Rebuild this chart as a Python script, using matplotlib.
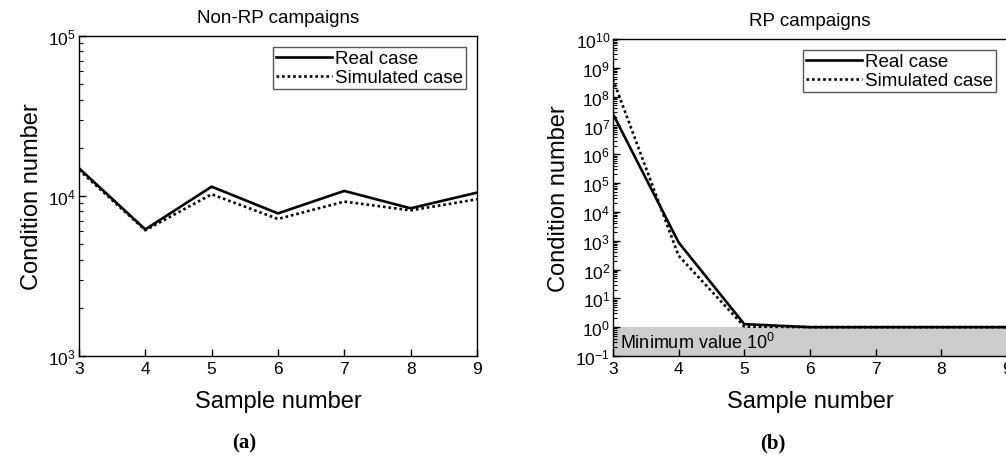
import numpy as np
import matplotlib
matplotlib.use("Agg")
from matplotlib import pyplot as plt
from matplotlib.ticker import LogLocator, NullFormatter

plt.rcParams['font.family'] = ['Liberation Sans', 'DejaVu Sans']
plt.rcParams['mathtext.fontset'] = 'custom'
plt.rcParams['mathtext.rm'] = 'Liberation Sans'
plt.rcParams['mathtext.it'] = 'Liberation Sans:italic'
plt.rcParams['axes.unicode_minus'] = False

# 样本编号
samples = [3, 4, 5, 6, 7, 8, 9]

# 非RP活动的条件数
nonrp_real = [14900, 6180, 11430, 7780, 10750, 8370, 10490]
nonrp_sim = [14550, 6100, 10250, 7180, 9220, 8130, 9530]

# RP活动的条件数
rp_real = [2.5e7, 870, 1.27, 1.0, 1.0, 1.0, 1.0]
rp_sim = [4e8, 300, 1.05, 1.0, 1.0, 1.0, 1.0]

min_value = 1.0

fig = plt.figure(figsize=(10.06, 4.6), dpi=100)
ax1 = fig.add_axes([0.0785, 0.224, 0.3956, 0.6957])
ax2 = fig.add_axes([0.6093, 0.224, 0.3917, 0.689])


def style_axes(ax, ylim, title):
    ax.set_yscale('log')
    ax.set_xlim(3, 9)
    ax.set_ylim(*ylim)
    ax.set_xticks(samples)
    ax.yaxis.set_major_locator(LogLocator(base=10, numticks=20))
    ax.yaxis.set_minor_locator(LogLocator(base=10, subs=np.arange(2, 10), numticks=20))
    ax.yaxis.set_minor_formatter(NullFormatter())
    ax.tick_params(direction='in', top=False, right=False, labelsize=12.5,
                   length=5, width=1)
    ax.tick_params(which='minor', direction='in', length=3, width=0.8)
    ax.tick_params(axis='y', pad=2)
    for s in ax.spines.values():
        s.set_linewidth(1.0)
    ax.set_xlabel("Sample number", fontsize=17, labelpad=10)
    ax.set_ylabel("Condition number", fontsize=17, labelpad=4)
    ax.set_title(title, fontsize=13.5, pad=10)


def add_legend(ax):
    ax.legend(loc='upper right', fontsize=13.5, frameon=True, fancybox=False,
              edgecolor='#555555', handlelength=3.0, handletextpad=0.15,
              borderpad=0.15, labelspacing=0.1, borderaxespad=0.6,
              framealpha=1)


# (a) 非RP活动
ax1.plot(samples, nonrp_real, color='black', lw=1.9, label='Real case')
ax1.plot(samples, nonrp_sim, color='black', lw=1.9, ls=(0, (1, 1.1)), label='Simulated case')
style_axes(ax1, (1e3, 1e5), "Non-RP campaigns")
add_legend(ax1)

# (b) RP活动
ax2.axhspan(0.1, min_value, color='#cccccc', zorder=0, lw=0)
ax2.plot(samples, rp_real, color='black', lw=1.9, label='Real case')
ax2.plot(samples, rp_sim, color='black', lw=1.9, ls=(0, (1, 1.1)), label='Simulated case')
style_axes(ax2, (1e-1, 1e10), "RP campaigns")
ax2.text(3.1, 0.31, r"Minimum value $10^0$", fontsize=13, va='center', ha='left')
add_legend(ax2)

fig.text(244 / 1006, 1 - 443 / 460, "(a)", fontsize=15, fontweight='bold',
         family='Liberation Serif', ha='center', va='center')
fig.text(773 / 1006, 1 - 443 / 460, "(b)", fontsize=15, fontweight='bold',
         family='Liberation Serif', ha='center', va='center')

fig.savefig("out.png", dpi=100)
